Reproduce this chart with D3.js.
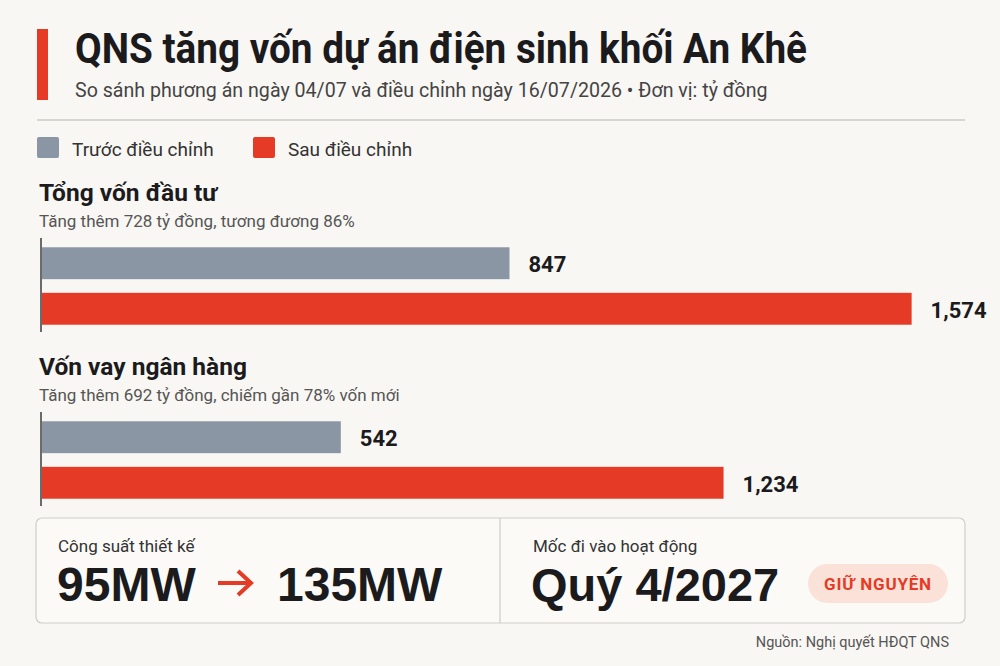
<!DOCTYPE html>
<html>
<head>
<meta charset="utf-8">
<script src="https://cdn.jsdelivr.net/npm/d3@7"></script>
<style>
  html, body { margin: 0; padding: 0; background: #f9f7f3; }
  svg { display: block; }
</style>
</head>
<body>
<svg id="chart"></svg>
<script>
// dữ liệu
const series = ['Trước điều chỉnh', 'Sau điều chỉnh'];
const groups = ['Tổng vốn đầu tư', 'Vốn vay ngân hàng'];
const groupNotes = ['Tăng thêm 728 tỷ đồng, tương đương 86%', 'Tăng thêm 692 tỷ đồng, chiếm gần 78% vốn mới'];
const beforeValues = [847, 542];
const afterValues = [1574, 1234];
const capacityValues = ['95MW', '135MW'];
const milestone = 'Quý 4/2027';

const width = 1000;
const height = 666;
const red = '#e53a25';
const gray = '#8a96a4';
const ink = '#1b1b1d';

const svg = d3.select('#chart')
  .attr('width', width)
  .attr('height', height)
  .attr('viewBox', `0 0 ${width} ${height}`);

svg.append('rect').attr('width', width).attr('height', height).attr('fill', '#f9f7f3');

// tiêu đề
svg.append('rect').attr('x', 37).attr('y', 29).attr('width', 11).attr('height', 71).attr('fill', red);
svg.append('text')
  .attr('x', 75).attr('y', 63)
  .attr('textLength', 732)
  .attr('lengthAdjust', 'spacingAndGlyphs')
  .style('font-family', 'Roboto, sans-serif')
  .style('font-weight', 'bold')
  .style('font-size', '42px')
  .style('fill', ink)
  .text('QNS tăng vốn dự án điện sinh khối An Khê');
svg.append('text')
  .attr('x', 75).attr('y', 97)
  .style('font-family', 'Roboto, sans-serif')
  .style('font-size', '19.6px')
  .style('fill', '#444')
  .text('So sánh phương án ngày 04/07 và điều chỉnh ngày 16/07/2026 • Đơn vị: tỷ đồng');
svg.append('line')
  .attr('x1', 37).attr('x2', 965).attr('y1', 120).attr('y2', 120)
  .attr('stroke', '#d9d6d0').attr('stroke-width', 2);

const color = d3.scaleOrdinal().domain(series).range([gray, red]);

// chú giải
const legendX = d3.scaleOrdinal().domain(series).range([37, 253]);
const legend = svg.selectAll('.legend')
  .data(series)
  .enter()
  .append('g')
  .attr('class', 'legend')
  .attr('transform', d => `translate(${legendX(d)},137)`);
legend.append('rect')
  .attr('width', 22).attr('height', 21).attr('rx', 2)
  .attr('fill', d => color(d));
legend.append('text')
  .attr('x', 35).attr('y', 19)
  .style('font-family', 'Roboto, sans-serif')
  .style('font-size', '19px')
  .style('fill', '#333')
  .text(d => d);

// biểu đồ thanh
const x = d3.scaleLinear().domain([0, 1600]).range([41, 926]);
const gy = d3.scalePoint().domain(groups).range([201, 375]);
const by = d3.scaleBand().domain(series).range([44, 126]).paddingInner(0.3).paddingOuter(0.05);

const rows = groups.map((g, i) => ({
  name: g,
  note: groupNotes[i],
  bars: [
    { key: series[0], value: beforeValues[i] },
    { key: series[1], value: afterValues[i] }
  ]
}));

const fmt = d3.format(',');

const grp = svg.selectAll('.group')
  .data(rows)
  .enter()
  .append('g')
  .attr('class', 'group')
  .attr('transform', d => `translate(0,${gy(d.name)})`);

grp.append('text')
  .attr('x', 39).attr('y', 0)
  .style('font-family', 'Roboto, sans-serif')
  .style('font-weight', 'bold')
  .style('font-size', '24.5px')
  .style('fill', ink)
  .text(d => d.name);
grp.append('text')
  .attr('x', 39).attr('y', 26)
  .style('font-family', 'Roboto, sans-serif')
  .style('font-size', '17px')
  .style('fill', '#555')
  .text(d => d.note);

grp.selectAll('.bar')
  .data(d => d.bars)
  .enter()
  .append('rect')
  .attr('class', 'bar')
  .attr('x', x(0))
  .attr('y', d => by(d.key))
  .attr('width', d => x(d.value) - x(0))
  .attr('height', by.bandwidth())
  .attr('fill', d => color(d.key));

grp.selectAll('.val')
  .data(d => d.bars)
  .enter()
  .append('text')
  .attr('class', 'val')
  .attr('x', d => x(d.value) + 19)
  .attr('y', d => by(d.key) + by.bandwidth() / 2 + 9)
  .style('font-family', 'Roboto, sans-serif')
  .style('font-weight', 'bold')
  .style('font-size', '22px')
  .style('fill', ink)
  .text(d => fmt(d.value));

grp.append('line')
  .attr('x1', x(0)).attr('x2', x(0))
  .attr('y1', 37).attr('y2', 131)
  .attr('stroke', '#6b6b6b').attr('stroke-width', 2);

// ô thông tin
svg.append('rect')
  .attr('x', 36).attr('y', 518).attr('width', 929).attr('height', 105).attr('rx', 6)
  .attr('fill', '#fbfaf7').attr('stroke', '#cfcdc8').attr('stroke-width', 1.2);
svg.append('line')
  .attr('x1', 500).attr('x2', 500).attr('y1', 518).attr('y2', 623)
  .attr('stroke', '#cfcdc8').attr('stroke-width', 1.2);

const labelStyle = sel => sel
  .style('font-family', 'Roboto, sans-serif')
  .style('font-size', '17px')
  .style('fill', '#333');
const bigStyle = sel => sel
  .style('font-family', '"Liberation Sans", Arial, sans-serif')
  .style('font-weight', 'bold')
  .style('font-size', '48px')
  .style('fill', ink);

svg.append('text').attr('x', 58).attr('y', 552).call(labelStyle).text('Công suất thiết kế');
svg.append('text').attr('x', 57).attr('y', 601).call(bigStyle).text(capacityValues[0]);
svg.append('text').attr('x', 277).attr('y', 601).call(bigStyle).text(capacityValues[1]);

// mũi tên
svg.append('path')
  .attr('d', 'M218,583 H249 M238,571 L251,583 L238,595')
  .attr('fill', 'none')
  .attr('stroke', red)
  .attr('stroke-width', 4)
  .attr('stroke-linecap', 'butt');

svg.append('text').attr('x', 533).attr('y', 552).call(labelStyle).text('Mốc đi vào hoạt động');
svg.append('text').attr('x', 531).attr('y', 601).call(bigStyle).style('font-size', '47px').text(milestone);

svg.append('rect')
  .attr('x', 808).attr('y', 564).attr('width', 140).attr('height', 39).attr('rx', 19.5)
  .attr('fill', '#fbe2d9');
svg.append('text')
  .attr('x', 878).attr('y', 590)
  .attr('text-anchor', 'middle')
  .style('font-family', 'Roboto, sans-serif')
  .style('font-weight', 'bold')
  .style('font-size', '17px')
  .style('letter-spacing', '0.8px')
  .style('fill', red)
  .text('GIỮ NGUYÊN');

svg.append('text')
  .attr('x', 949).attr('y', 647)
  .attr('text-anchor', 'end')
  .style('font-family', 'Roboto, sans-serif')
  .style('font-size', '14.5px')
  .style('fill', '#555')
  .text('Nguồn: Nghị quyết HĐQT QNS');
</script>
</body>
</html>
